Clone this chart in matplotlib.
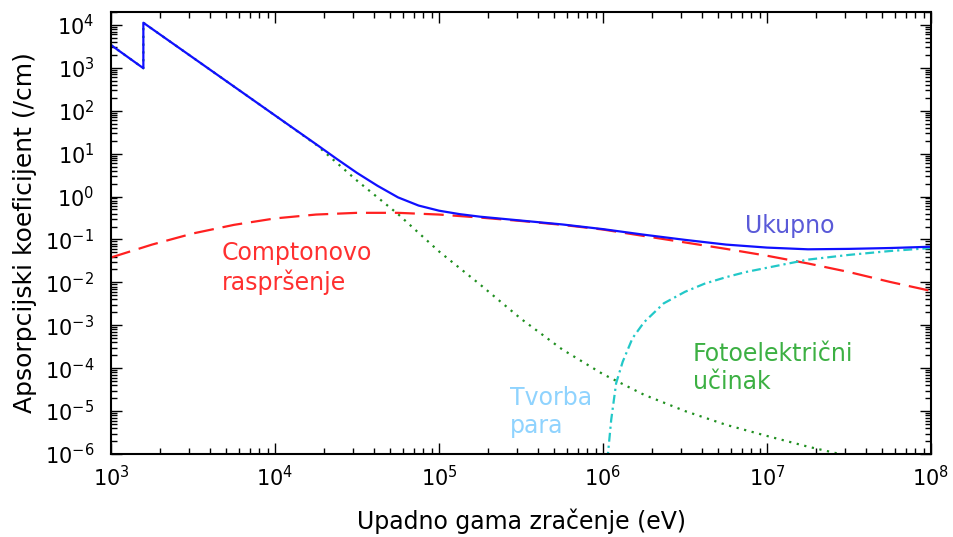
import numpy as np
import matplotlib
matplotlib.use("Agg")
import matplotlib.pyplot as plt
from matplotlib.ticker import LogLocator, NullFormatter

plt.rcParams["axes.unicode_minus"] = False
plt.rcParams["font.family"] = "DejaVu Sans"

# energies are given as log10(E / eV), coefficients as log10(mu / cm^-1)

# photoelectric effect (absorption edge near 1.6 keV)
foto_logE = [3.0, 3.197, 3.197, 3.5, 4.0, 4.25, 4.5, 4.75, 5.0, 5.25, 5.5,
             5.75, 6.0, 6.25, 6.5, 6.75, 7.0, 7.25, 7.5, 8.0]
foto_logmu = [3.53, 2.99, 4.05, 3.235, 1.89, 1.21, 0.37, -0.41, -1.28, -2.05,
              -2.85, -3.56, -4.14, -4.62, -5.0, -5.32, -5.58, -5.83, -6.05, -6.5]

# Compton scattering
compton_logE = [3.0, 3.25, 3.5, 3.75, 4.0, 4.25, 4.5, 4.75, 5.0, 5.25, 5.5,
                5.75, 6.0, 6.25, 6.5, 6.75, 7.0, 7.25, 7.5, 7.75, 8.0]
compton_logmu = [-1.42, -1.12, -0.86, -0.66, -0.51, -0.42, -0.38, -0.38, -0.42,
                 -0.49, -0.57, -0.66, -0.77, -0.92, -1.07, -1.22, -1.38, -1.56,
                 -1.76, -1.99, -2.2]

# pair production (threshold 1.022 MeV)
pair_logE = [6.015, 6.035, 6.05, 6.08, 6.12, 6.18, 6.25, 6.37, 6.5, 6.62,
             6.75, 6.87, 7.0, 7.25, 7.5, 7.75, 8.0]
pair_logmu = [-6.6, -5.8, -5.2, -4.35, -3.85, -3.3, -2.93, -2.49, -2.22, -2.03,
              -1.88, -1.76, -1.66, -1.47, -1.36, -1.27, -1.2]

# total
total_logE = [3.0, 3.197, 3.197, 3.5, 4.0, 4.25, 4.375, 4.5, 4.625, 4.75, 4.875,
              5.0, 5.125, 5.25, 5.5, 5.75, 6.0, 6.25, 6.5, 6.75, 7.0, 7.25,
              7.5, 7.75, 8.0]
total_logmu = [3.53, 2.99, 4.05, 3.235, 1.89, 1.22, 0.88, 0.55, 0.25, -0.02,
               -0.21, -0.33, -0.41, -0.47, -0.56, -0.65, -0.76, -0.89, -1.01,
               -1.12, -1.19, -1.23, -1.22, -1.20, -1.17]


def lin(v):
    return 10 ** np.asarray(v)


fig = plt.figure(figsize=(9.54, 5.37), dpi=100)
ax = fig.add_axes([0.1164, 0.1546, 0.8595, 0.8231])

ax.loglog(lin(foto_logE), lin(foto_logmu), color="#1f8f1f", lw=1.6,
          dashes=(1, 2.5))
ax.loglog(lin(compton_logE), lin(compton_logmu), color="#ff2020", lw=1.6,
          dashes=(9, 4))
ax.loglog(lin(pair_logE), lin(pair_logmu), color="#22c8c8", lw=1.6,
          dashes=(4, 1.8, 1, 1.8))
ax.loglog(lin(total_logE), lin(total_logmu), color="#1010ff", lw=1.6)

ax.set_xlim(1e3, 1e8)
ax.set_ylim(1e-6, 2e4)

for axis in (ax.xaxis, ax.yaxis):
    axis.set_major_locator(LogLocator(base=10, numticks=30))
    axis.set_minor_locator(LogLocator(base=10, subs=np.arange(2, 10), numticks=200))
    axis.set_minor_formatter(NullFormatter())

ax.tick_params(which="both", direction="in", top=True, right=True,
               labelsize=15, width=1)
ax.tick_params(which="major", length=8)
ax.tick_params(which="minor", length=4)
ax.tick_params(axis="x", which="major", pad=8)
ax.tick_params(axis="y", which="major", pad=12)
for s in ax.spines.values():
    s.set_linewidth(1.5)

ax.set_xlabel("Upadno gama zračenje (eV)", fontsize=17, labelpad=13)
ax.set_ylabel("Apsorpcijski koeficijent (/cm)", fontsize=18, labelpad=6)

ax.text(lin(3.677), lin(-1.664), "Comptonovo\nraspršenje", color="#ff3030",
        fontsize=17, ha="left", va="center")
ax.text(lin(7.14), lin(-0.685), "Ukupno", color="#5a5ad8",
        fontsize=17, ha="center", va="center")
ax.text(lin(6.549), lin(-4.0), "Fotoelektrični\nučinak", color="#3cb043",
        fontsize=17, ha="left", va="center")
ax.text(lin(5.433), lin(-5.02), "Tvorba\npara", color="#8fd3fe",
        fontsize=17, ha="left", va="center")

fig.savefig("out.png", dpi=100)
